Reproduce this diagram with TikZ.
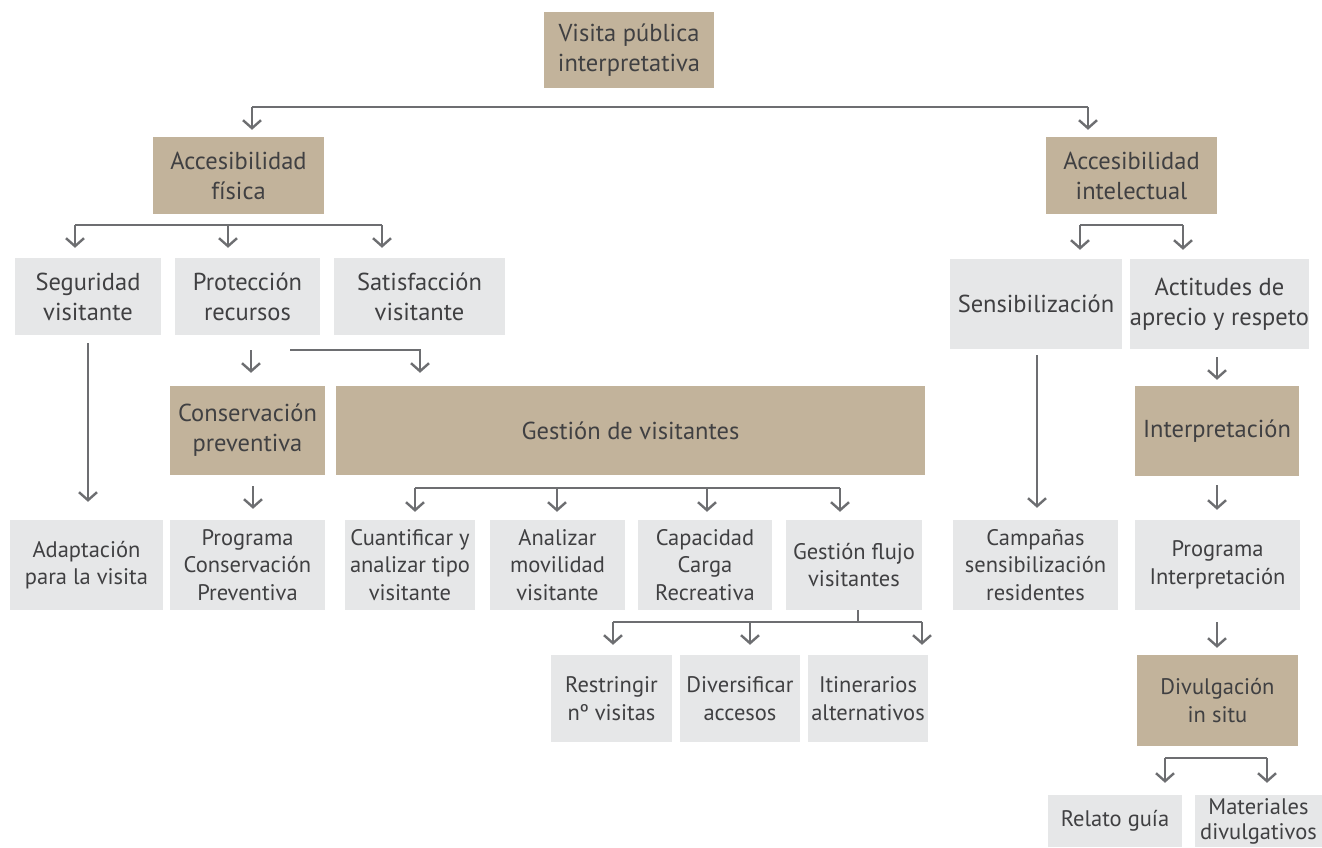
\documentclass[tikz,border=0pt]{standalone}
\usepackage{fontspec}
\setmainfont{PT Sans}
\usetikzlibrary{arrows.meta, positioning}
\definecolor{tan1}{HTML}{C2B39B}
\definecolor{gray1}{HTML}{E6E7E8}
\definecolor{line1}{HTML}{6D6E71}
\definecolor{text1}{HTML}{404042}
\tikzset{
  Box1/.style = {
    inner sep = 0pt,
    align = center,
    text = text1,
    font = \fontsize{22.5}{27.5}\selectfont,
  },
  Big1/.style = {
    font = \fontsize{24.5}{30}\selectfont,
  },
  TanBox/.style = {Box1, fill = tan1},
  GrayBox/.style = {Box1, fill = gray1},
  Line1/.style = {
    draw = line1,
    line width = 2.4pt,
  },
  Arrow1/.style = {
    Line1,
    -{Straight Barb[length = 8pt, width = 18pt, line width = 2.4pt]},
  }
}

\begin{document}
\begin{tikzpicture}[x=1pt, y=-1pt]
      \useasboundingbox (0,0) rectangle (1322,847);
      % top
      \node[TanBox, Big1, minimum width=170, minimum height=76] (visita) at (629,50) {Visita pública\\interpretativa};
      \node[TanBox, Big1, minimum width=171, minimum height=77] (fisica) at (238.5,175.5) {Accesibilidad\\física};
      \node[TanBox, Big1, minimum width=171, minimum height=77] (intel) at (1131.5,175.5) {Accesibilidad\\intelectual};
      % row 3
      \node[GrayBox, Big1, minimum width=146, minimum height=77] (seguridad) at (88,296.5) {Seguridad\\visitante};
      \node[GrayBox, Big1, minimum width=145, minimum height=77] (proteccion) at (247.5,296.5) {Protección\\recursos};
      \node[GrayBox, Big1, minimum width=171, minimum height=77] (satisfaccion) at (419.5,296.5) {Satisfacción\\visitante};
      \node[GrayBox, Big1, minimum width=172, minimum height=90] (sensib) at (1036,304) {Sensibilización};
      \node[GrayBox, Big1, minimum width=171, minimum height=90] (actitudes) at (1219.5,304) {Actitudes de\\aprecio y respeto};
      % row 4
      \node[TanBox, Big1, minimum width=155, minimum height=89] (conserv) at (247.5,430.5) {Conservación\\preventiva};
      \node[TanBox, Big1, minimum width=589, minimum height=89] (gestion) at (630.5,430.5) {Gestión de visitantes};
      \node[TanBox, Big1, minimum width=164, minimum height=90] (interp) at (1217,431) {Interpretación};
      % row 5
      \node[GrayBox, minimum width=153, minimum height=90] (adaptacion) at (86.5,565) {Adaptación\\para la visita};
      \node[GrayBox, minimum width=155, minimum height=90] (progcons) at (247.5,565) {Programa\\Conservación\\Preventiva};
      \node[GrayBox, minimum width=130, minimum height=90] (cuantificar) at (410,565) {Cuantificar y\\analizar tipo\\visitante};
      \node[GrayBox, minimum width=135, minimum height=90] (analizar) at (557.5,565) {Analizar\\movilidad\\visitante};
      \node[GrayBox, minimum width=134, minimum height=90] (capacidad) at (705,565) {Capacidad\\Carga\\Recreativa};
      \node[GrayBox, minimum width=136, minimum height=90] (flujo) at (854,565) {Gestión flujo\\visitantes};
      \node[GrayBox, minimum width=165, minimum height=90] (campanas) at (1035.5,565) {Campañas\\sensibilización\\residentes};
      \node[GrayBox, minimum width=165, minimum height=90] (proginterp) at (1217.5,565) {Programa\\Interpretación};
      % row 6
      \node[GrayBox, minimum width=121, minimum height=87] (restringir) at (611.5,698.5) {Restringir\\nº visitas};
      \node[GrayBox, minimum width=120, minimum height=87] (diversificar) at (740,698.5) {Diversificar\\accesos};
      \node[GrayBox, minimum width=120, minimum height=87] (itinerarios) at (868,698.5) {Itinerarios\\alternativos};
      \node[TanBox, minimum width=161, minimum height=91] (divulg) at (1217.5,700.5) {Divulgación\\in situ};
      % row 7
      \node[GrayBox, minimum width=134, minimum height=52] (relato) at (1115,821) {Relato guía};
      \node[GrayBox, minimum width=127, minimum height=52, font=\fontsize{22.5}{25}\selectfont] (materiales) at (1258.5,821) {Materiales\\divulgativos};

      % connectors
      \coordinate (t1) at (252,107);
      \coordinate (t2) at (1088,107);
      \draw[Line1] (t1) -- (t2);
      \draw[Arrow1, shorten >=7pt] (t1) -- (t1 |- fisica.north);
      \draw[Arrow1, shorten >=7pt] (t2) -- (t2 |- intel.north);

      \coordinate (f1) at (75,225);
      \coordinate (f2) at (228,225);
      \coordinate (f3) at (382,225);
      \draw[Line1] (f1) -- (f3);
      \draw[Arrow1, shorten >=10pt] (f1) -- (f1 |- seguridad.north);
      \draw[Arrow1, shorten >=10pt] (f2) -- (f2 |- proteccion.north);
      \draw[Arrow1, shorten >=10pt] (f3) -- (f3 |- satisfaccion.north);

      \draw[Arrow1, shorten <=8pt, shorten >=18pt] (seguridad.south) -- (seguridad.south |- adaptacion.north);
      \draw[Arrow1, shorten <=15pt, shorten >=13pt] (proteccion.south -| 251,0) -- (conserv.north -| 251,0);
      \coordinate (p1) at (290,350);
      \draw[Arrow1, shorten >=13pt] (p1) -| (420,350 |- gestion.north);
      \draw[Arrow1, shorten <=11pt, shorten >=11pt] (conserv.south -| 253,0) -- (progcons.north -| 253,0);

      \coordinate (g1) at (415,488);
      \coordinate (g4) at (840,488);
      \draw[Line1] (g1) -- (g4);
      \draw[Arrow1, shorten >=8pt] (g1) -- (g1 |- cuantificar.north);
      \draw[Arrow1, shorten >=8pt] (557,488) -- (557,488 |- analizar.north);
      \draw[Arrow1, shorten >=8pt] (707,488) -- (707,488 |- capacidad.north);
      \draw[Arrow1, shorten >=8pt] (g4) -- (g4 |- flujo.north);

      \coordinate (s1) at (858,622);
      \draw[Line1] (flujo.south -| s1) -- (s1);
      \draw[Line1] (613,622) -- (922,622);
      \draw[Arrow1, shorten >=10pt] (613,622) -- (613,622 |- restringir.north);
      \draw[Arrow1, shorten >=10pt] (750,622) -- (750,622 |- diversificar.north);
      \draw[Arrow1, shorten >=10pt] (922,622) -- (922,622 |- itinerarios.north);

      \coordinate (r1) at (1080,225);
      \coordinate (r2) at (1183,225);
      \draw[Line1] (r1) -- (r2);
      \draw[Arrow1, shorten >=9pt] (r1) -- (r1 |- sensib.north);
      \draw[Arrow1, shorten >=9pt] (r2) -- (r2 |- actitudes.north);

      \draw[Arrow1, shorten <=6pt, shorten >=12pt] (sensib.south -| 1037,0) -- (campanas.north -| 1037,0);
      \draw[Arrow1, shorten <=8pt, shorten >=6pt] (actitudes.south -| 1217,0) -- (interp.north -| 1217,0);
      \draw[Arrow1, shorten <=9pt, shorten >=10pt] (interp.south -| 1217,0) -- (proginterp.north -| 1217,0);
      \draw[Arrow1, shorten <=12pt, shorten >=7pt] (proginterp.south -| 1217,0) -- (divulg.north -| 1217,0);

      \coordinate (d1) at (1165,758);
      \coordinate (d2) at (1267,758);
      \draw[Line1] (d1) -- (d2);
      \draw[Arrow1, shorten >=12pt] (d1) -- (d1 |- relato.north);
      \draw[Arrow1, shorten >=12pt] (d2) -- (d2 |- materiales.north);
    \end{tikzpicture}
\end{document}
